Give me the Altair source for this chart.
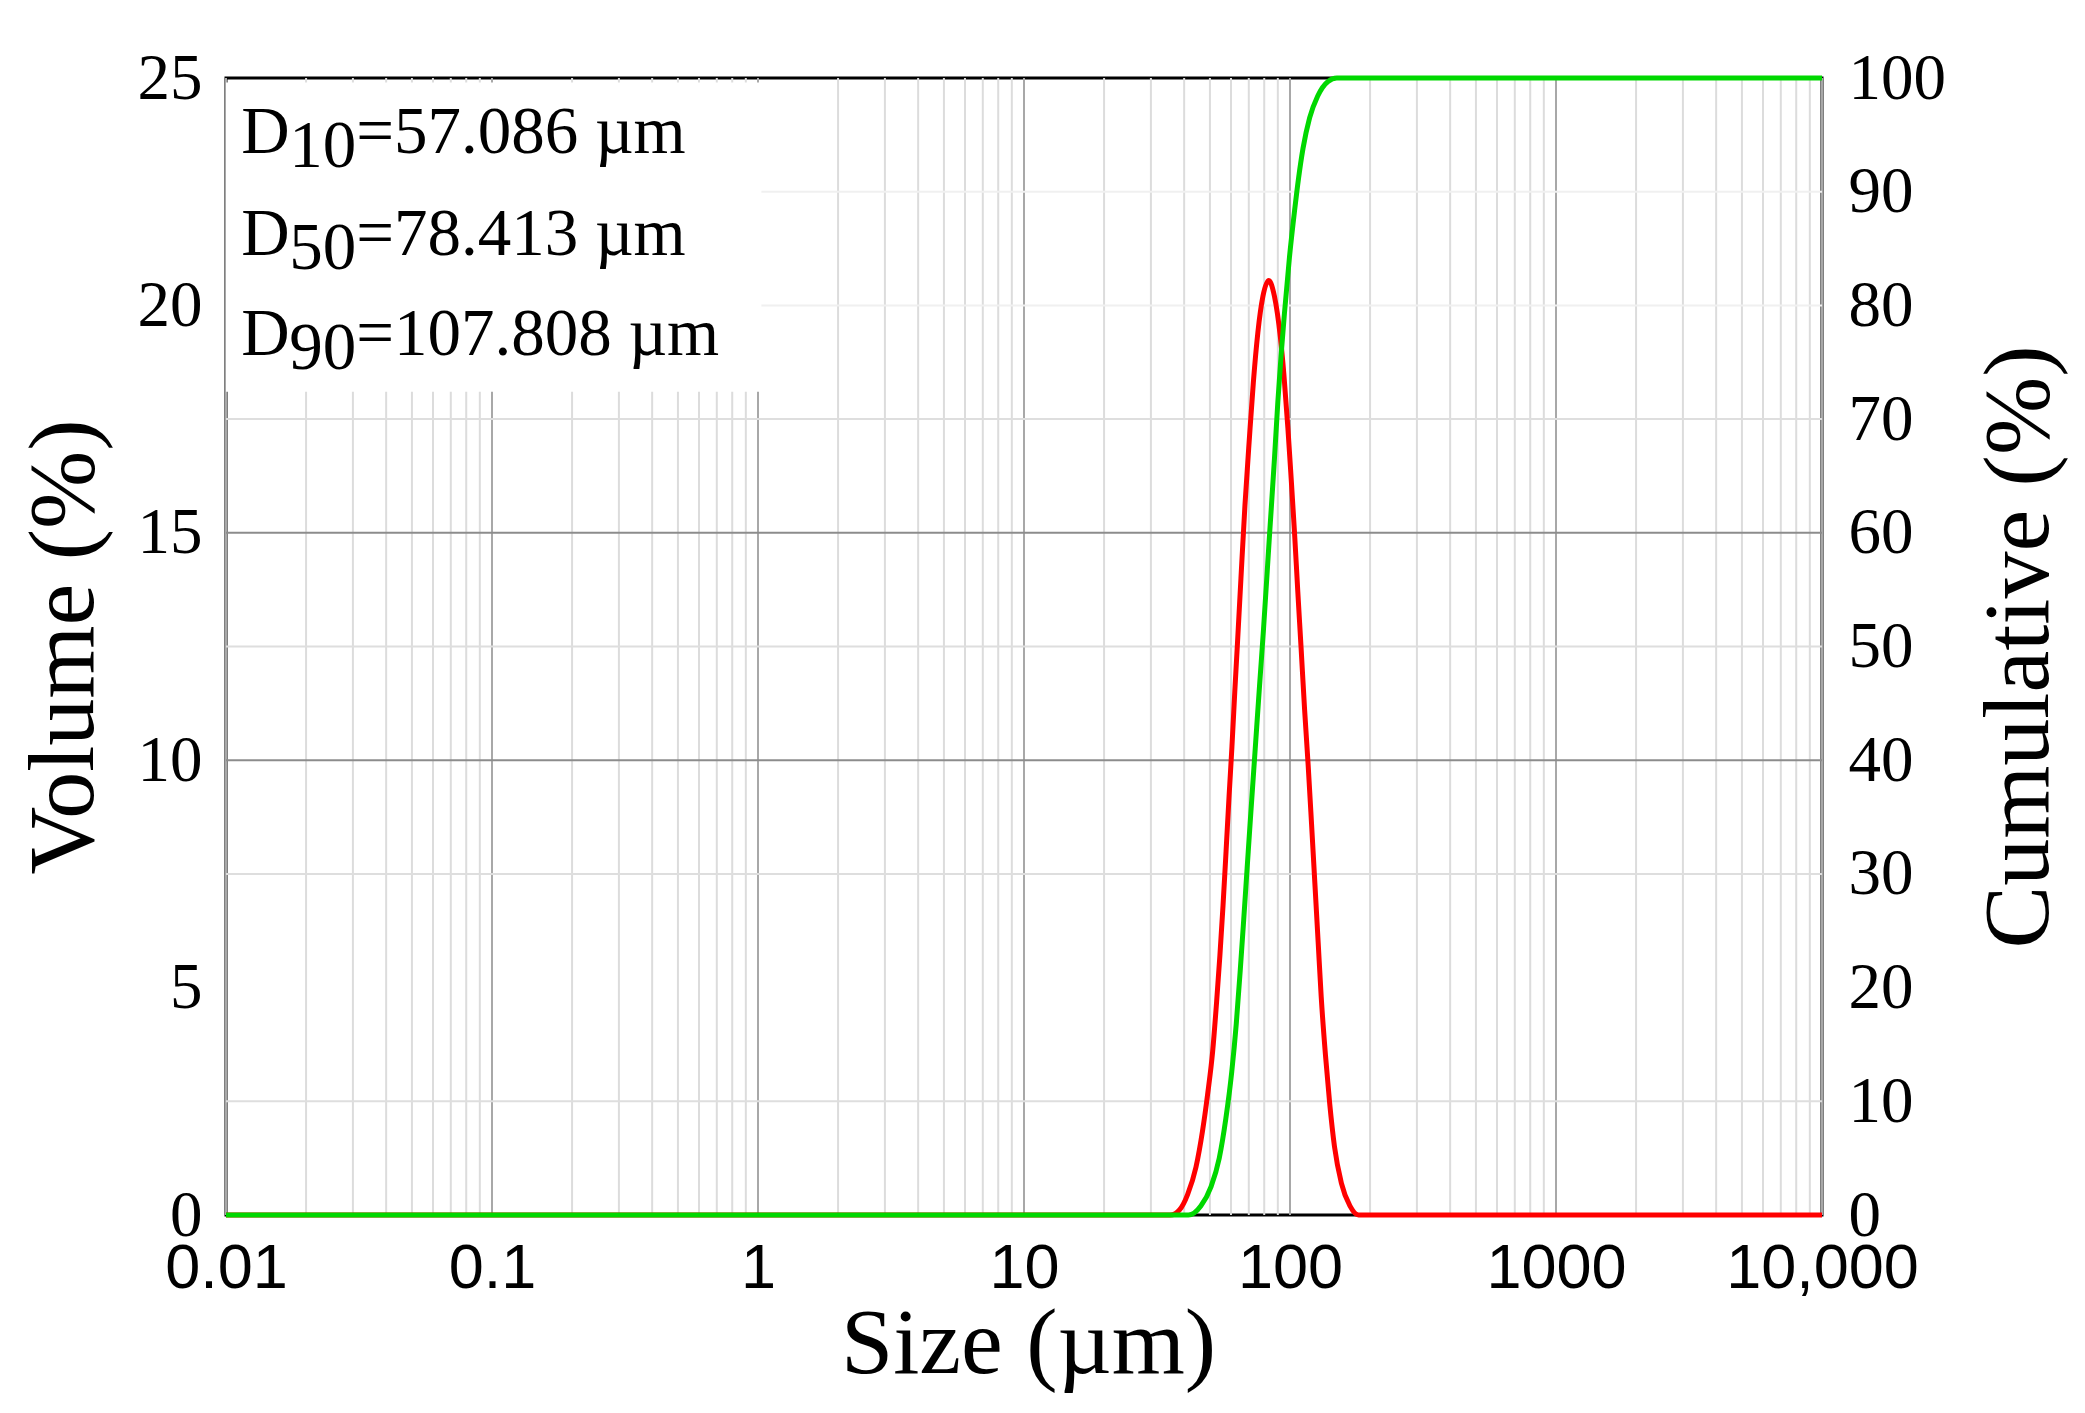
import altair as alt
import pandas as pd

# volume density curve (size in um, volume in %)
vol_size = [0.01, 35.5, 38.5, 41.2, 44.3, 46.9, 49.0, 51.2, 53.0, 54.5, 56.0, 57.5, 59.0,
            60.5, 62.0, 63.5, 65.4, 67.7, 70.4, 72.8, 75.7, 79.1, 83.2, 87.4, 92.0, 94.8,
            98.2, 101, 104, 107, 110, 113.5, 117, 120.5, 124, 127.6, 131, 136, 141, 147,
            156, 168, 181, 10000]
vol_pct = [0, 0, 0.12, 0.45, 1.05, 1.85, 2.65, 3.6, 4.7, 5.7, 6.8, 8.0, 9.2,
           10.3, 11.5, 12.6, 14.0, 15.6, 17.1, 18.3, 19.4, 20.2, 20.55, 20.2, 19.3, 18.5,
           17.3, 16.2, 15.0, 13.7, 12.5, 11.1, 9.9, 8.6, 7.3, 6.0, 4.8, 3.5, 2.45, 1.5,
           0.7, 0.2, 0, 0]

# cumulative curve (size in um, cumulative in %)
cum_size = [0.01, 41.5, 46.2, 50.5, 54.2, 57.4, 60.4, 62.8, 65.0, 67.0, 69.0, 71.3, 74.0,
            76.8, 79.5, 83.7, 87.4, 90.0, 92.5, 95.3, 99.5, 104, 107.7, 111.9, 118.5, 127,
            139, 150, 10000]
cum_pct = [0, 0, 0.8, 2.5, 5.0, 8.5, 12.6, 16.8, 21.5, 26.0, 30.5, 35.5, 41.0,
           46.5, 51.5, 59.7, 66.5, 71.5, 75.5, 79.3, 84.2, 88.3, 91.2, 93.8, 96.5, 98.4,
           99.7, 100, 100]

decades = [0.01, 0.1, 1, 10, 100, 1000, 10000]
decade_labels = ["0.01", "0.1", "1", "10", "100", "1000", "10,000"]
minor_steps = [2, 3, 4, 5, 6, 7, 8, 9]
left_ticks = [0, 5, 10, 15, 20, 25]
right_ticks = [0, 10, 20, 30, 40, 50, 60, 70, 80, 90, 100]
grid_dark = [10, 15]          # left scale
grid_light = [10, 30, 50, 70]  # cumulative scale
grid_faint = [80, 90]         # cumulative scale

d_subs = ["10", "50", "90"]
d_texts = ["=57.086 µm", "=78.413 µm", "=107.808 µm"]

W, H = 1596, 1137
serif = "Liberation Serif"

vol = pd.DataFrame({"size": vol_size, "vol": vol_pct})
cum = pd.DataFrame({"size": cum_size, "cum": cum_pct})
minor = pd.DataFrame({"v": [d * m for d in decades[:-1] for m in minor_steps]})
major = pd.DataFrame({"v": decades})
hdark = pd.DataFrame({"v": grid_dark})
hlight = pd.DataFrame({"v": [p / 4 for p in grid_light]})
hfaint = pd.DataFrame({"v": [p / 4 for p in grid_faint]})
box = pd.DataFrame({"x": [0.01], "x2": [1.03], "y": [18.1], "y2": [24.9]})
notes = pd.DataFrame({"x": [0.0114] * 3, "y": [23.35, 21.1, 18.9],
                      "sub": d_subs, "txt": d_texts})

xs = alt.Scale(type="log", domain=[0.01, 10000], nice=False)
ys = alt.Scale(domain=[0, 25], nice=False)

# same axis objects on every layer so that they merge instead of vanishing
xa = alt.Axis(
    values=decades, title="Size (µm)",
    labelExpr="[" + ",".join(f"'{l}'" for l in decade_labels) + "][round(log(datum.value)/LN10)+2]",
    labelFont="Liberation Sans", labelFontSize=63, labelPadding=22,
    labelFlush=False, labelOverlap=False, labelLimit=0,
    titleFont=serif, titleFontSize=94, titleFontWeight="normal",
    titleBaseline="alphabetic", titleY=157, titleX=W / 2 + 4)
ya = alt.Axis(
    values=left_ticks, title="Volume (%)",
    labelFont=serif, labelFontSize=65, labelPadding=24,
    titleFont=serif, titleFontSize=94, titleFontWeight="normal",
    titleAngle=270, titleBaseline="alphabetic", titleX=-134, titleY=H / 2)

vrule = lambda df, c: alt.Chart(df).mark_rule(color=c, strokeWidth=2).encode(
    x=alt.X("v:Q", scale=xs, axis=xa))
hrule = lambda df, c: alt.Chart(df).mark_rule(color=c, strokeWidth=2).encode(
    y=alt.Y("v:Q", scale=ys, axis=ya))

grid = alt.layer(
    vrule(minor, "#dcdcdc"), vrule(major, "#a8a8a8"),
    hrule(hfaint, "#f0f0f0"), hrule(hlight, "#dedede"), hrule(hdark, "#8c8c8c"),
)

panel = alt.Chart(box).mark_rect(fill="white").encode(
    x=alt.X("x:Q", scale=xs, axis=xa), x2="x2",
    y=alt.Y("y:Q", scale=ys, axis=ya), y2="y2")

base_txt = alt.Chart(notes).encode(
    x=alt.X("x:Q", scale=xs, axis=xa), y=alt.Y("y:Q", scale=ys, axis=ya))
txt_opts = dict(align="left", baseline="alphabetic", font=serif, fontSize=67, color="black")
t_d = base_txt.mark_text(**txt_opts).encode(text=alt.value("D"))
t_sub = base_txt.mark_text(dx=48, dy=14, **txt_opts).encode(text="sub:N")
t_rest = base_txt.mark_text(dx=115, **txt_opts).encode(text="txt:N")

red = alt.Chart(vol).mark_line(color="#ff0000", strokeWidth=5, interpolate="monotone").encode(
    x=alt.X("size:Q", scale=xs, axis=xa),
    y=alt.Y("vol:Q", scale=ys, axis=ya),
)

green = alt.Chart(cum).mark_line(color="#00d800", strokeWidth=5, interpolate="monotone").encode(
    x=alt.X("size:Q", scale=xs, axis=xa),
    y=alt.Y("cum:Q", scale=alt.Scale(domain=[0, 100], nice=False), axis=alt.Axis(
        orient="right", values=right_ticks, title="Cumulative (%)",
        labelFont=serif, labelFontSize=65, labelPadding=26,
        titleFont=serif, titleFontSize=94, titleFontWeight="normal",
        titleAngle=270, titleBaseline="alphabetic", titleX=225, titleY=H / 2)),
)

left = alt.layer(grid, panel, t_d, t_sub, t_rest, red)

chart = alt.layer(left, green).resolve_scale(y="independent").properties(
    width=W, height=H,
    autosize=alt.AutoSizeParams(type="none"),
    padding={"left": 218, "top": 70, "right": 255, "bottom": 190},
).configure_axis(
    domain=False, ticks=False, grid=False, labelColor="black", titleColor="black"
).configure_view(
    stroke="black", strokeWidth=3
)

chart.save("out.html", embed_options={"renderer": "svg", "actions": False})
